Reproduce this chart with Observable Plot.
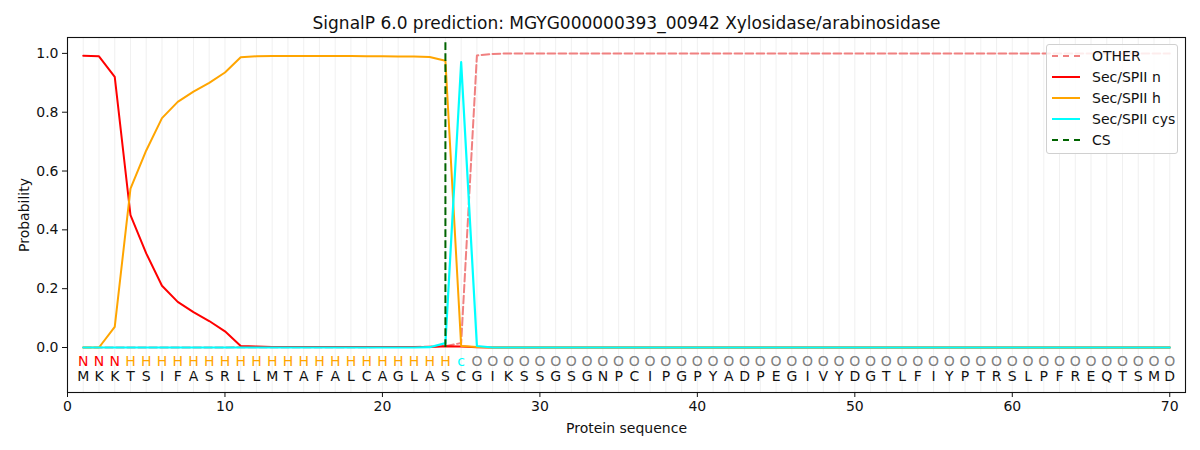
<!DOCTYPE html>
<html>
<head>
<meta charset="utf-8">
<script src="https://cdn.jsdelivr.net/npm/d3@7"></script>
<script src="https://cdn.jsdelivr.net/npm/@observablehq/plot@0.6"></script>
<style>
  body { margin: 0; background: white; font-family: "DejaVu Sans", sans-serif; }
  #wrap { position: relative; width: 1200px; height: 450px; }
  #legend {
    position: absolute; left: 1046px; top: 44px; width: 130px; height: 107px;
    border: 1px solid #d0d0d0; border-radius: 3px; background: rgba(255,255,255,0.85);
    font-family: "DejaVu Sans", sans-serif; font-size: 14px; color: #111;
    box-sizing: content-box; padding-top: 1px;
  }
  .row { display: flex; align-items: center; height: 20.9px; }
  .sw { width: 28px; margin-left: 5px; margin-right: 12px; height: 0; border-top-width: 2px; }
</style>
</head>
<body>
<div id="wrap"><div id="chart"></div><div id="legend"></div></div>
<script>
const title = "SignalP 6.0 prediction: MGYG000000393_00942 Xylosidase/arabinosidase";
const sequence = "MKKTSIFASRLLMTAFALCAGLASCGIKSSGSGNPCIPGPYADPEGIVYDGTLFIYPTRSLPFREQTSMD".split("");
const regions = ("NNN" + "H".repeat(21) + "c" + "O".repeat(45)).split("");
const positions = sequence.map((_, i) => i + 1);

const otherVals = [0,0,0,0,0,0,0,0,0,0,0.001,0.001,0.001,0.001,0.001,0.001,0.001,0.001,0.001,0.002,0.002,0.002,0.003,0.005,0.015,0.993,0.998,
  ...Array(43).fill(1.0)];
const nVals = [0.992,0.99,0.92,0.45,0.32,0.21,0.155,0.12,0.09,0.055,0.005,0.003,0.002,0.002,0.002,0.002,0.002,0.002,0.002,0.002,0.002,0.002,0.002,0.004,0.003,0.001,
  ...Array(44).fill(0)];
const hVals = [0,0.0,0.07,0.54,0.67,0.78,0.835,0.87,0.9,0.935,0.987,0.99,0.991,0.991,0.991,0.991,0.991,0.991,0.99,0.99,0.989,0.989,0.988,0.975,0.005,0.002,
  ...Array(44).fill(0)];
const cysVals = [0,0,0,0,0,0,0,0,0,0,0,0,0,0,0,0,0,0,0,0,0,0,0.001,0.015,0.97,0.005,
  ...Array(44).fill(0)];
const csPos = [24];

const seriesNames = ["OTHER", "Sec/SPII n", "Sec/SPII h", "Sec/SPII cys"];
const seriesColors = ["#f08080", "#ff0000", "#ffa500", "#00ffff"];
const seriesVals = [otherVals, nVals, hVals, cysVals];
const regionColors = {N: "#ff0000", H: "#ffa500", c: "#00ffff", O: "#808080"};

const xTicks = [0, 10, 20, 30, 40, 50, 60, 70];
const yTicks = [0, 0.2, 0.4, 0.6, 0.8, 1.0];

const lineMarks = seriesVals.map((vals, k) =>
  Plot.line(positions, {
    x: d => d, y: (d, i) => vals[i],
    stroke: seriesColors[k], strokeWidth: k === 3 ? 2.2 : 2,
    strokeDasharray: k === 0 ? "7.7,3.3" : null
  })
);

const chart = Plot.plot({
  width: 1200, height: 450,
  marginLeft: 67, marginRight: 15, marginTop: 37, marginBottom: 58,
  style: {fontFamily: "DejaVu Sans, sans-serif", fontSize: "14px", color: "#111", background: "white"},
  x: {domain: [0, 71]},
  y: {domain: [-0.153, 1.054]},
  marks: [
    Plot.ruleX(positions, {x: d => d, stroke: "#d3d3d3", strokeOpacity: 0.35, strokeWidth: 1}),
    ...lineMarks,
    Plot.ruleX(csPos, {x: d => d, y1: 0, y2: 1.04, stroke: "#006400", strokeWidth: 2, strokeDasharray: "7.7,3.3"}),
    Plot.text(positions, {x: d => d, y: -0.047, text: (d, i) => regions[i], fill: (d, i) => regionColors[regions[i]], fontSize: 14}),
    Plot.text(positions, {x: d => d, y: -0.098, text: (d, i) => sequence[i], fill: "#111", fontSize: 14}),
    Plot.frame({stroke: "#111", strokeWidth: 1.1}),
    Plot.axisX({ticks: xTicks, tickSize: 5, tickPadding: 4, fontSize: 14, label: "Protein sequence", labelAnchor: "center", labelArrow: "none", labelOffset: 40}),
    Plot.axisY({ticks: yTicks, tickSize: 5, tickPadding: 4, fontSize: 14, tickFormat: d3.format(".1f"), label: "Probability", labelAnchor: "center", labelArrow: "none", labelOffset: 48}),
    Plot.text([title], {frameAnchor: "top", lineAnchor: "middle", dy: -14, fontSize: 17, fill: "#111"})
  ]
});
document.getElementById("chart").appendChild(chart);

const legendItems = [
  ...seriesNames.map((n, k) => ({name: n, color: seriesColors[k], dashed: k === 0})),
  {name: "CS", color: "#006400", dashed: true}
];
const lg = document.getElementById("legend");
for (const it of legendItems) {
  const row = document.createElement("div");
  row.className = "row";
  const sw = document.createElement("div");
  sw.className = "sw";
  sw.style.borderTopStyle = it.dashed ? "dashed" : "solid";
  sw.style.borderTopColor = it.color;
  const t = document.createElement("span");
  t.textContent = it.name;
  row.appendChild(sw); row.appendChild(t);
  lg.appendChild(row);
}
</script>
</body>
</html>
